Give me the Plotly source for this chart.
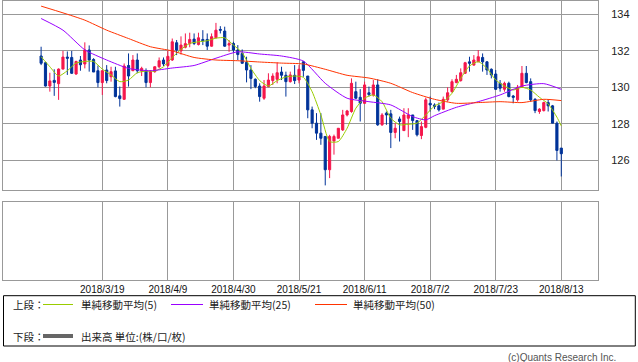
import plotly.graph_objects as go
import pandas as pd

# ---------------- data ----------------
dates = pd.bdate_range("2018-02-27", "2018-08-13")
date_labels = [f"{d.year}/{d.month}/{d.day}" for d in dates]

open_ = [131.72, 131.35, 130.07, 130.38, 130.20, 131.00, 131.66, 131.64, 130.73, 131.50,
         131.28, 132.05, 131.53, 130.91, 130.26, 130.95, 130.58, 130.90, 129.53, 129.34,
         131.20, 130.91, 131.50, 130.90, 130.90, 130.26, 130.86, 131.13, 131.50, 131.20,
         131.50, 132.45, 132.00, 132.20, 132.40, 132.65, 132.35, 132.63, 132.63, 132.26,
         132.72, 133.18, 133.09, 132.32, 132.41, 132.05, 131.86, 131.37, 130.95, 130.44,
         130.07, 129.40, 130.04, 130.37, 130.44, 130.84, 130.66, 130.31, 130.66, 130.40,
         131.40, 130.62, 128.76, 128.03, 127.48, 127.30, 125.47, 127.05, 127.20, 127.66,
         128.48, 128.67, 129.76, 129.45, 129.12, 129.70, 129.58, 130.13, 127.94, 128.58,
         128.54, 127.52, 128.26, 127.62, 128.30, 128.48, 128.17, 127.35, 127.80, 129.12,
         129.03, 128.98, 128.80, 129.31, 129.76, 130.26, 130.37, 130.77, 131.40, 131.22,
         131.40, 131.64, 131.40, 130.99, 130.73, 130.22, 129.89, 130.22, 129.52, 129.31,
         130.00, 130.77, 130.31, 129.34, 128.67, 128.72, 129.16, 128.98, 128.03, 126.66]
high = [132.23, 131.40, 130.80, 130.99, 131.04, 132.00, 131.97, 132.00, 131.46, 131.72,
        132.47, 132.30, 131.60, 131.20, 130.93, 131.22, 131.13, 131.13, 130.04, 131.31,
        131.86, 131.77, 131.86, 131.13, 131.04, 130.95, 131.15, 131.64, 131.64, 132.00,
        132.68, 132.60, 132.80, 132.96, 133.00, 132.96, 133.00, 133.14, 132.96, 132.96,
        133.54, 133.36, 133.33, 132.60, 132.50, 132.32, 132.08, 131.68, 131.22, 130.49,
        130.22, 130.40, 130.77, 130.77, 131.37, 131.13, 130.86, 130.86, 131.22, 131.22,
        131.45, 130.62, 128.94, 128.58, 128.58, 127.30, 127.39, 127.40, 127.75, 128.76,
        128.76, 130.49, 130.31, 129.90, 130.31, 130.04, 130.40, 130.44, 128.58, 128.67,
        128.76, 128.03, 128.39, 128.85, 128.85, 128.48, 128.17, 128.12, 129.43, 129.49,
        129.12, 129.16, 129.49, 130.00, 130.44, 130.68, 131.04, 131.40, 131.68, 131.77,
        132.05, 131.86, 131.44, 131.04, 130.95, 130.40, 130.31, 130.31, 129.58, 130.13,
        131.17, 131.17, 130.49, 129.40, 128.85, 129.21, 129.31, 129.03, 128.12, 126.66]
low = [131.22, 130.04, 129.76, 129.53, 129.31, 130.99, 130.68, 130.73, 130.69, 130.91,
       131.04, 130.86, 130.84, 130.00, 129.58, 130.22, 130.31, 129.45, 128.94, 129.31,
       130.04, 130.91, 130.77, 130.62, 130.00, 130.00, 130.80, 131.04, 131.17, 131.10,
       131.45, 131.77, 131.80, 132.14, 132.20, 132.32, 132.30, 132.32, 132.05, 132.23,
       132.72, 132.96, 132.23, 131.95, 131.90, 131.50, 131.30, 130.27, 129.90, 129.95,
       129.21, 129.31, 130.00, 130.13, 130.22, 130.40, 129.49, 130.26, 130.18, 130.22,
       130.58, 128.30, 127.75, 127.11, 126.84, 124.61, 125.01, 126.30, 127.20, 127.60,
       128.40, 128.60, 129.37, 128.12, 129.10, 129.50, 129.49, 127.88, 127.88, 127.94,
       126.66, 127.20, 127.02, 127.60, 127.26, 127.66, 127.30, 127.15, 127.75, 128.67,
       128.80, 128.67, 128.80, 129.21, 129.70, 130.22, 130.31, 130.73, 130.86, 131.19,
       131.40, 130.86, 130.68, 130.49, 129.85, 129.76, 129.76, 129.45, 129.12, 129.21,
       130.00, 130.22, 129.21, 128.58, 128.54, 128.67, 128.67, 128.03, 125.98, 125.10]
close = [131.32, 130.07, 130.35, 130.27, 131.00, 131.66, 131.60, 130.77, 131.42, 131.24,
         132.05, 131.50, 130.84, 130.26, 130.91, 130.37, 130.86, 129.49, 129.38, 131.17,
         130.62, 131.50, 130.91, 131.04, 130.26, 130.86, 131.13, 131.46, 131.28, 131.70,
         132.50, 132.05, 132.32, 132.40, 132.63, 132.41, 132.72, 132.56, 132.26, 132.78,
         133.14, 133.14, 132.26, 132.40, 132.05, 131.80, 131.32, 130.95, 130.49, 130.04,
         129.49, 130.07, 130.40, 130.62, 130.80, 130.66, 130.31, 130.68, 130.37, 130.99,
         130.93, 128.76, 128.03, 127.48, 127.20, 125.47, 127.30, 127.30, 127.75, 128.48,
         128.70, 130.22, 129.40, 129.12, 130.13, 129.60, 130.13, 127.94, 128.48, 128.48,
         127.52, 127.75, 128.12, 128.48, 128.48, 128.17, 127.39, 127.84, 129.31, 129.03,
         128.94, 128.76, 129.34, 129.70, 130.31, 130.44, 130.80, 131.35, 131.32, 131.50,
         131.68, 131.40, 130.95, 130.68, 129.89, 129.95, 130.22, 129.49, 129.45, 130.00,
         130.77, 130.26, 129.31, 128.72, 128.80, 129.16, 128.98, 128.03, 126.53, 126.35]

# moving averages (index of the bar, value)
ma5_idx = list(range(0, 120, 2)) + [119]
ma5 = [131.68, 131.13, 130.62, 130.91, 131.33, 131.42, 131.42, 131.00, 130.68, 130.31,
       130.40, 130.80, 130.89, 130.89, 131.13, 131.64, 132.08, 132.41, 132.50, 132.56,
       132.70, 132.72, 132.32, 131.90, 131.04, 130.37, 130.07, 130.37, 130.57, 130.62,
       130.55, 129.76, 128.48, 127.02, 127.02, 127.75, 128.85, 129.40, 129.58, 129.21,
       128.30, 127.94, 127.97, 128.03, 128.48, 128.98, 129.21, 129.67, 130.49, 131.17,
       131.41, 131.04, 130.40, 130.07, 129.85, 130.00, 129.85, 129.45, 129.09, 128.36,
       127.88]
ma25_idx = [0, 5, 10, 15, 20, 25, 30, 35, 40, 45, 50, 55, 60, 65, 70, 75, 80, 85, 88, 90,
            95, 100, 105, 110, 115, 119]
ma25 = [133.78, 133.14, 132.06, 131.50, 131.04, 130.91, 131.06, 131.20, 131.60, 131.95,
        131.83, 131.72, 131.44, 130.22, 129.40, 129.21, 129.03, 128.39, 128.21, 128.44,
        128.90, 129.21, 129.58, 130.07, 130.20, 129.89]
ma50_idx = [0, 5, 10, 15, 20, 25, 30, 35, 40, 45, 50, 55, 60, 65, 70, 75, 80, 85, 90, 95,
            100, 105, 110, 115, 119]
ma50 = [134.46, 134.09, 133.69, 133.14, 132.68, 132.23, 132.00, 131.64, 131.50, 131.46,
        131.39, 131.33, 131.28, 130.99, 130.66, 130.51, 130.22, 129.71, 129.34, 129.12,
        129.16, 129.21, 129.16, 129.34, 129.27]

tick_labels = ["2018/3/19", "2018/4/9", "2018/4/30", "2018/5/21",
               "2018/6/11", "2018/7/2", "2018/7/23", "2018/8/13"]
y_ticks = [126, 128, 130, 132, 134]

legend_names = ["単純移動平均(5)", "単純移動平均(25)", "単純移動平均(50)"]

# ---------------- style ----------------
W, H = 638, 362
RED = "#f5164b"
BLUE = "#003399"
C5, C25, C50 = "#99cc00", "#9900ff", "#ff3300"
GRID = "#999999"


def px(x):
    return x / W


def py(y):
    return 1 - y / H


xi = list(range(len(date_labels)))
tick_idx = [date_labels.index(t) for t in tick_labels]

fig = go.Figure()
fig.add_trace(go.Candlestick(
    x=xi, open=open_, high=high, low=low, close=close,
    increasing=dict(line=dict(color=RED, width=1), fillcolor=RED),
    decreasing=dict(line=dict(color=BLUE, width=1), fillcolor=BLUE),
    whiskerwidth=0, showlegend=False, hoverinfo="skip"))
for idx, vals, col in [(ma5_idx, ma5, C5), (ma25_idx, ma25, C25), (ma50_idx, ma50, C50)]:
    fig.add_trace(go.Scatter(x=idx, y=vals, mode="lines",
                             line=dict(color=col, width=1, shape="spline", smoothing=0.6),
                             showlegend=False, hoverinfo="skip"))
fig.add_trace(go.Scatter(x=[0], y=[None], xaxis="x2", yaxis="y2", mode="lines",
                         showlegend=False, hoverinfo="skip"))

xr = [-8.65, 127.4]
xdom = [px(3.3), px(598)]
common_x = dict(domain=xdom, range=xr, tickvals=tick_idx, showgrid=True, gridcolor=GRID,
                gridwidth=1, zeroline=False, showline=True, mirror=True, linecolor=GRID,
                linewidth=1, ticks="", fixedrange=True)

fig.update_layout(
    width=W, height=H, margin=dict(l=0, r=0, t=0, b=0),
    paper_bgcolor="white", plot_bgcolor="white", showlegend=False,
    xaxis=dict(**common_x, anchor="y", showticklabels=False, rangeslider=dict(visible=False)),
    yaxis=dict(domain=[py(190.3), py(0.5)], range=[124.34, 134.77], tickvals=y_ticks,
               side="right", showgrid=True, gridcolor=GRID, gridwidth=1, zeroline=False,
               showline=True, mirror=True, linecolor=GRID, ticks="", ticklabelstandoff=10,
               tickfont=dict(family="Liberation Sans", size=11, color="#222222")),
    xaxis2=dict(**common_x, anchor="y2", ticktext=tick_labels, showticklabels=True,
                tickfont=dict(family="Liberation Sans", size=10, color="#111111")),
    yaxis2=dict(domain=[py(280), py(201.7)], range=[0, 1], showgrid=False, zeroline=False,
                showticklabels=False, showline=True, mirror=True, linecolor=GRID, ticks=""),
)

shapes = []
annotations = []
# legend box
shapes.append(dict(type="rect", xref="paper", yref="paper", x0=px(3.5), x1=px(635.3),
                   y0=py(346), y1=py(295.7), line=dict(color="black", width=1)))
font_j = dict(family="Noto Sans CJK JP", size=10.5, color="#222222")
row1, row2 = 304.5, 336
annotations.append(dict(text="上段：", x=px(11), y=py(row1), xref="paper", yref="paper",
                        xanchor="left", yanchor="middle", showarrow=False, font=font_j))
annotations.append(dict(text="下段：", x=px(11), y=py(row2), xref="paper", yref="paper",
                        xanchor="left", yanchor="middle", showarrow=False, font=font_j))
for (x0, x1, tx), col, name in zip([(43, 73, 79), (171, 203, 207), (315, 347, 351)],
                                   [C5, C25, C50], legend_names):
    shapes.append(dict(type="line", xref="paper", yref="paper", x0=px(x0), x1=px(x1),
                       y0=py(row1), y1=py(row1), line=dict(color=col, width=1)))
    annotations.append(dict(text=name, x=px(tx), y=py(row1), xref="paper", yref="paper",
                            xanchor="left", yanchor="middle", showarrow=False, font=font_j))
shapes.append(dict(type="line", xref="paper", yref="paper", x0=px(43), x1=px(73),
                   y0=py(row2), y1=py(row2), line=dict(color="#666666", width=4)))
annotations.append(dict(text="出来高 単位:(株/口/枚)", x=px(79), y=py(row2), xref="paper",
                        yref="paper", xanchor="left", yanchor="middle", showarrow=False,
                        font=font_j))
annotations.append(dict(text="(c)Quants Research Inc.", x=px(618), y=py(357), xref="paper",
                        yref="paper", xanchor="right", yanchor="middle", showarrow=False,
                        font=dict(family="Liberation Sans", size=10, color="#555555")))
fig.update_layout(shapes=shapes, annotations=annotations)

fig.write_html("out.html", config={"displayModeBar": False},
               post_script="document.body.style.margin='0';document.body.style.overflow='hidden';")
